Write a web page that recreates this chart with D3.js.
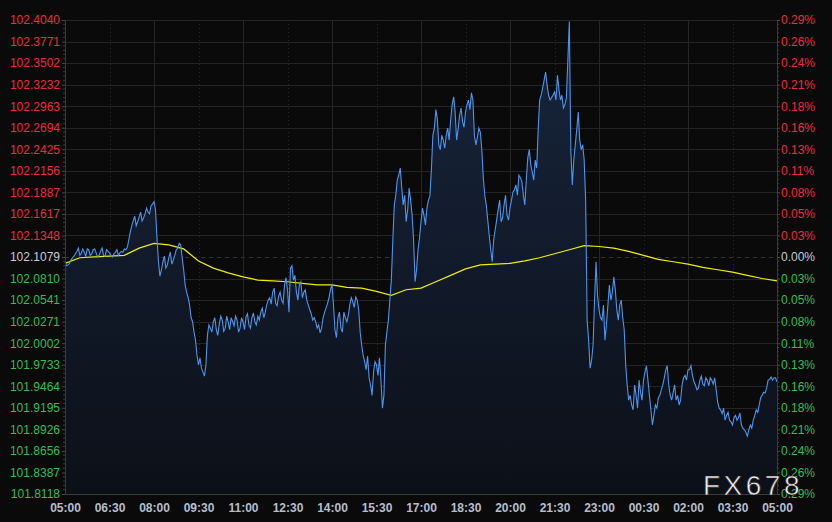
<!DOCTYPE html>
<html><head><meta charset="utf-8">
<script src="https://cdn.jsdelivr.net/npm/d3@7"></script>
<style>html,body{margin:0;padding:0;background:#0a0a0a;overflow:hidden}svg{display:block}</style>
</head><body><svg id="c" width="832" height="522"></svg>
<script>
// ---------- data ----------
const basePrice = 102.1079;
const priceTicks = [102.4040,102.3771,102.3502,102.3232,102.2963,102.2694,102.2425,102.2156,102.1887,102.1617,102.1348,102.1079,102.0810,102.0541,102.0271,102.0002,101.9733,101.9464,101.9195,101.8926,101.8656,101.8387,101.8118];
const pctLabels = ["0.29%","0.26%","0.24%","0.21%","0.18%","0.16%","0.13%","0.11%","0.08%","0.05%","0.03%","0.00%","0.03%","0.05%","0.08%","0.11%","0.13%","0.16%","0.18%","0.21%","0.24%","0.26%","0.29%"];
const timeLabels = ["05:00","06:30","08:00","09:30","11:00","12:30","14:00","15:30","17:00","18:30","20:00","21:30","23:00","00:30","02:00","03:30","05:00"];
const labelStepMinutes = 90;
const totalMinutes = 1440;
// prices sampled at minutes 0, 6, 12, ... (pricesA) and 3, 9, 15, ... (pricesB)
const pricesA = [
102.102,102.098,102.104,102.109,102.115,102.110,102.118,102.109,102.117,102.112,102.118,102.108,102.115,102.110,102.117,102.113,
102.108,102.114,102.110,102.115,102.118,102.120,102.139,102.153,102.147,102.158,102.153,102.162,102.164,102.172,102.177,
102.132,102.084,102.102,102.094,102.107,102.099,102.110,102.119,102.123,102.092,102.064,102.048,102.027,102.004,101.973,
101.969,101.959,102.010,102.019,102.027,102.017,102.024,102.029,102.019,102.027,102.032,102.022,102.029,102.019,102.027,
102.033,102.023,102.032,102.027,102.034,102.039,102.032,102.048,102.057,102.064,102.050,102.059,102.054,102.073,102.067,
102.094,102.079,102.064,102.073,102.057,102.067,102.048,102.037,102.032,102.019,102.013,102.032,102.044,102.057,102.074,
102.017,102.032,102.019,102.039,102.027,102.048,102.052,102.058,102.042,101.998,101.977,101.984,101.948,101.964,101.973,
101.982,101.919,101.998,102.029,102.079,102.173,102.204,102.219,102.173,102.152,102.194,102.160,102.077,102.117,102.152,
102.160,102.169,102.184,102.260,102.292,102.248,102.260,102.244,102.269,102.279,102.308,102.254,102.285,102.277,102.289,
102.304,102.313,102.260,102.257,102.264,102.207,102.173,102.135,102.102,102.142,102.167,102.152,102.173,102.160,102.169,
102.189,102.198,102.210,102.202,102.173,102.232,102.223,102.204,102.219,102.304,102.319,102.339,102.310,102.307,102.314,
102.335,102.304,102.294,102.307,102.402,102.198,102.248,102.289,102.242,102.229,102.029,101.969,101.998,102.102,102.042,
102.029,102.004,102.048,102.054,102.083,102.042,102.048,102.032,101.973,101.929,101.923,101.948,101.919,101.939,101.954,
101.972,101.935,101.898,101.923,101.932,101.942,101.957,101.972,101.935,101.939,101.929,101.923,101.948,101.960,101.967,
101.972,101.952,101.942,101.954,101.949,101.957,101.947,101.954,101.957,101.927,101.917,101.919,101.910,101.904,101.898,
101.910,101.907,101.898,101.892,101.884,101.898,101.904,101.917,101.923,101.935,101.938,101.954,101.958,101.957,101.952
];
const pricesB = [
102.097,102.100,102.107,102.112,102.119,102.113,102.114,102.118,102.110,102.117,102.113,102.110,102.119,102.109,102.115,102.110,
102.112,102.117,102.113,102.114,102.117,102.129,102.147,102.159,102.152,102.164,102.157,102.169,102.162,102.174,
102.167,102.102,102.092,102.109,102.098,102.114,102.104,102.117,102.125,102.107,102.073,102.057,102.032,102.014,101.985,
101.982,101.964,101.973,102.023,102.014,102.032,102.010,102.034,102.015,102.034,102.017,102.027,102.034,102.014,102.032,
102.017,102.037,102.019,102.038,102.023,102.029,102.044,102.039,102.054,102.049,102.069,102.047,102.064,102.050,102.082,
102.039,102.097,102.085,102.054,102.077,102.064,102.054,102.042,102.029,102.027,102.023,102.019,102.039,102.050,102.067,
102.048,102.007,102.039,102.014,102.032,102.035,102.057,102.045,102.054,102.014,101.985,101.967,101.957,101.935,101.977,
101.960,101.954,101.935,102.014,102.054,102.129,102.185,102.210,102.195,102.185,102.167,102.179,102.129,102.092,102.132,
102.169,102.148,102.179,102.217,102.269,102.281,102.242,102.254,102.260,102.254,102.298,102.289,102.267,102.294,102.270,
102.298,102.292,102.304,102.248,102.269,102.242,102.185,102.154,102.117,102.129,102.154,102.179,102.157,102.185,102.154,
102.179,102.192,102.185,102.207,102.185,102.204,102.242,102.214,102.229,102.267,102.310,102.329,102.323,102.304,102.310,
102.304,102.317,102.310,102.298,102.354,102.242,102.229,102.267,102.254,102.248,102.179,102.004,101.979,102.054,102.060,
102.032,102.048,102.023,102.073,102.064,102.067,102.029,102.054,102.017,101.948,101.935,101.917,101.935,101.954,101.929,
101.964,101.954,101.917,101.910,101.919,101.935,101.948,101.967,101.948,101.929,101.948,101.935,101.929,101.957,101.954,
101.967,101.960,101.948,101.944,101.959,101.947,101.954,101.957,101.949,101.942,101.919,101.912,101.904,101.914,101.902,
101.907,101.904,101.913,101.894,101.889,101.892,101.894,101.910,101.914,101.932,101.939,101.944,101.955,101.954,101.957
];
const priceStepMinutes = 6;
const avgStepMinutes = 30;
const avgPrices = [
102.100,102.107,102.108,102.109,102.110,102.119,102.125,102.123,102.118,102.103,
102.094,102.088,102.083,102.079,102.078,102.077,102.075,102.073,102.073,102.070,
102.069,102.065,102.060,102.067,102.069,102.077,102.085,102.093,102.098,102.099,
102.100,102.103,102.107,102.112,102.117,102.122,102.121,102.119,102.115,102.110,
102.105,102.102,102.099,102.095,102.092,102.089,102.085,102.081,102.078
];

// ---------- layout ----------
const W = 832, H = 522;
const pL = 65, pR = 777, pT = 20, pB = 494;
const svg = d3.select('#c');
svg.append('rect').attr('width', W).attr('height', H).attr('fill', '#0a0a0a');

const x = d3.scaleLinear().domain([0, totalMinutes]).range([pL, pR]);
const y = d3.scaleLinear().domain([priceTicks[priceTicks.length-1], priceTicks[0]]).range([pB, pT]);

const defs = svg.append('defs');
const grad = defs.append('linearGradient').attr('id','ag').attr('gradientUnits','userSpaceOnUse')
  .attr('x1',0).attr('y1',pT).attr('x2',0).attr('y2',pB);
grad.append('stop').attr('offset','0%').attr('stop-color','#17253d');
grad.append('stop').attr('offset','100%').attr('stop-color','#0c1018');

// horizontal grid
const g = svg.append('g');
g.selectAll('line.h').data(priceTicks).join('line')
  .attr('x1', pL).attr('x2', pR)
  .attr('y1', d => Math.round(y(d)) + 0.5).attr('y2', d => Math.round(y(d)) + 0.5)
  .attr('stroke', d => d === basePrice ? '#333' : '#242424')
  .attr('stroke-dasharray', d => d === basePrice ? '4,4' : null)
  .attr('stroke-width', 1);

// vertical grid
const timeVals = timeLabels.map((t, i) => i * labelStepMinutes);
g.selectAll('line.v').data(timeVals.slice(1, -1)).join('line')
  .attr('x1', d => Math.round(x(d)) + 0.5).attr('x2', d => Math.round(x(d)) + 0.5)
  .attr('y1', pT).attr('y2', pB)
  .attr('stroke', (d, i) => (i % 2 === 1) ? '#262626' : '#2c2c2c')
  .attr('stroke-dasharray', (d, i) => (i % 2 === 1) ? null : '1,3');

// series (interleave the two sample sets into one 3-minute series)
const pts = [];
pricesA.forEach((p, i) => {
  pts.push([i * priceStepMinutes, p]);
  if (i < pricesB.length) pts.push([i * priceStepMinutes + priceStepMinutes / 2, pricesB[i]]);
});
const area = d3.area().x(d => x(d[0])).y0(pB).y1(d => y(d[1]));
svg.append('path').datum(pts).attr('d', area).attr('fill', 'url(#ag)');

const avgPts = avgPrices.map((p, i) => [i * avgStepMinutes, p]);
const line = d3.line().x(d => x(d[0])).y(d => y(d[1]));
svg.append('path').datum(avgPts).attr('d', line).attr('fill', 'none')
  .attr('stroke', '#eeee00').attr('stroke-width', 1.2);
svg.append('path').datum(pts).attr('d', line).attr('fill', 'none')
  .attr('stroke', '#4d94ec').attr('stroke-width', 1.1).attr('stroke-linejoin', 'miter');

// axes
const colorFor = d => d > basePrice + 1e-9 ? '#ee2a3e' : (d < basePrice - 1e-9 ? '#2fbf55' : '#c4cad4');
const font = '12px "Liberation Sans", Arial, sans-serif';

const la = svg.append('g').attr('transform', `translate(${pL},0)`)
  .call(d3.axisLeft(y).tickValues(priceTicks).tickFormat(d3.format('.4f')).tickSize(3).tickPadding(2));
la.select('.domain').attr('stroke', '#3a3a3a');
la.selectAll('.tick line').attr('stroke', '#4a4a4a');
la.selectAll('.tick text').attr('fill', d => colorFor(d)).style('font', font);

const ra = svg.append('g').attr('transform', `translate(${pR},0)`)
  .call(d3.axisRight(y).tickValues(priceTicks).tickFormat((d, i) => pctLabels[i]).tickSize(3).tickPadding(1));
ra.select('.domain').attr('stroke', '#3a3a3a');
ra.selectAll('.tick line').attr('stroke', '#4a4a4a');
ra.selectAll('.tick text').attr('fill', d => colorFor(d)).style('font', font);

// minor ticks
const minor = [];
for (let i = 0; i < priceTicks.length - 1; i++) {
  for (let k = 1; k < 5; k++) minor.push(priceTicks[i] + (priceTicks[i+1] - priceTicks[i]) * k / 5);
}
svg.append('g').selectAll('line').data(minor).join('line')
  .attr('x1', pL - 2).attr('x2', pL).attr('y1', d => y(d)).attr('y2', d => y(d)).attr('stroke', '#3c3c3c');
svg.append('g').selectAll('line').data(minor).join('line')
  .attr('x1', pR).attr('x2', pR + 2).attr('y1', d => y(d)).attr('y2', d => y(d)).attr('stroke', '#3c3c3c');

const ba = svg.append('g').attr('transform', `translate(0,${pB})`)
  .call(d3.axisBottom(x).tickValues(timeVals).tickFormat((d, i) => timeLabels[i]).tickSize(0).tickPadding(9));
ba.select('.domain').attr('stroke', '#3a3a3a');
ba.selectAll('.tick text').attr('fill', '#b6bece').style('font', 'bold 12px "Liberation Sans", Arial, sans-serif');

// watermark
svg.append('text').attr('x', 703).attr('y', 495).text('FX678')
  .attr('fill', '#eef0f6').attr('stroke', '#2a1a10').attr('stroke-width', 0.6)
  .style('font', '28px "Liberation Sans", Arial, sans-serif').style('letter-spacing', '3.5px');
</script></body></html>
